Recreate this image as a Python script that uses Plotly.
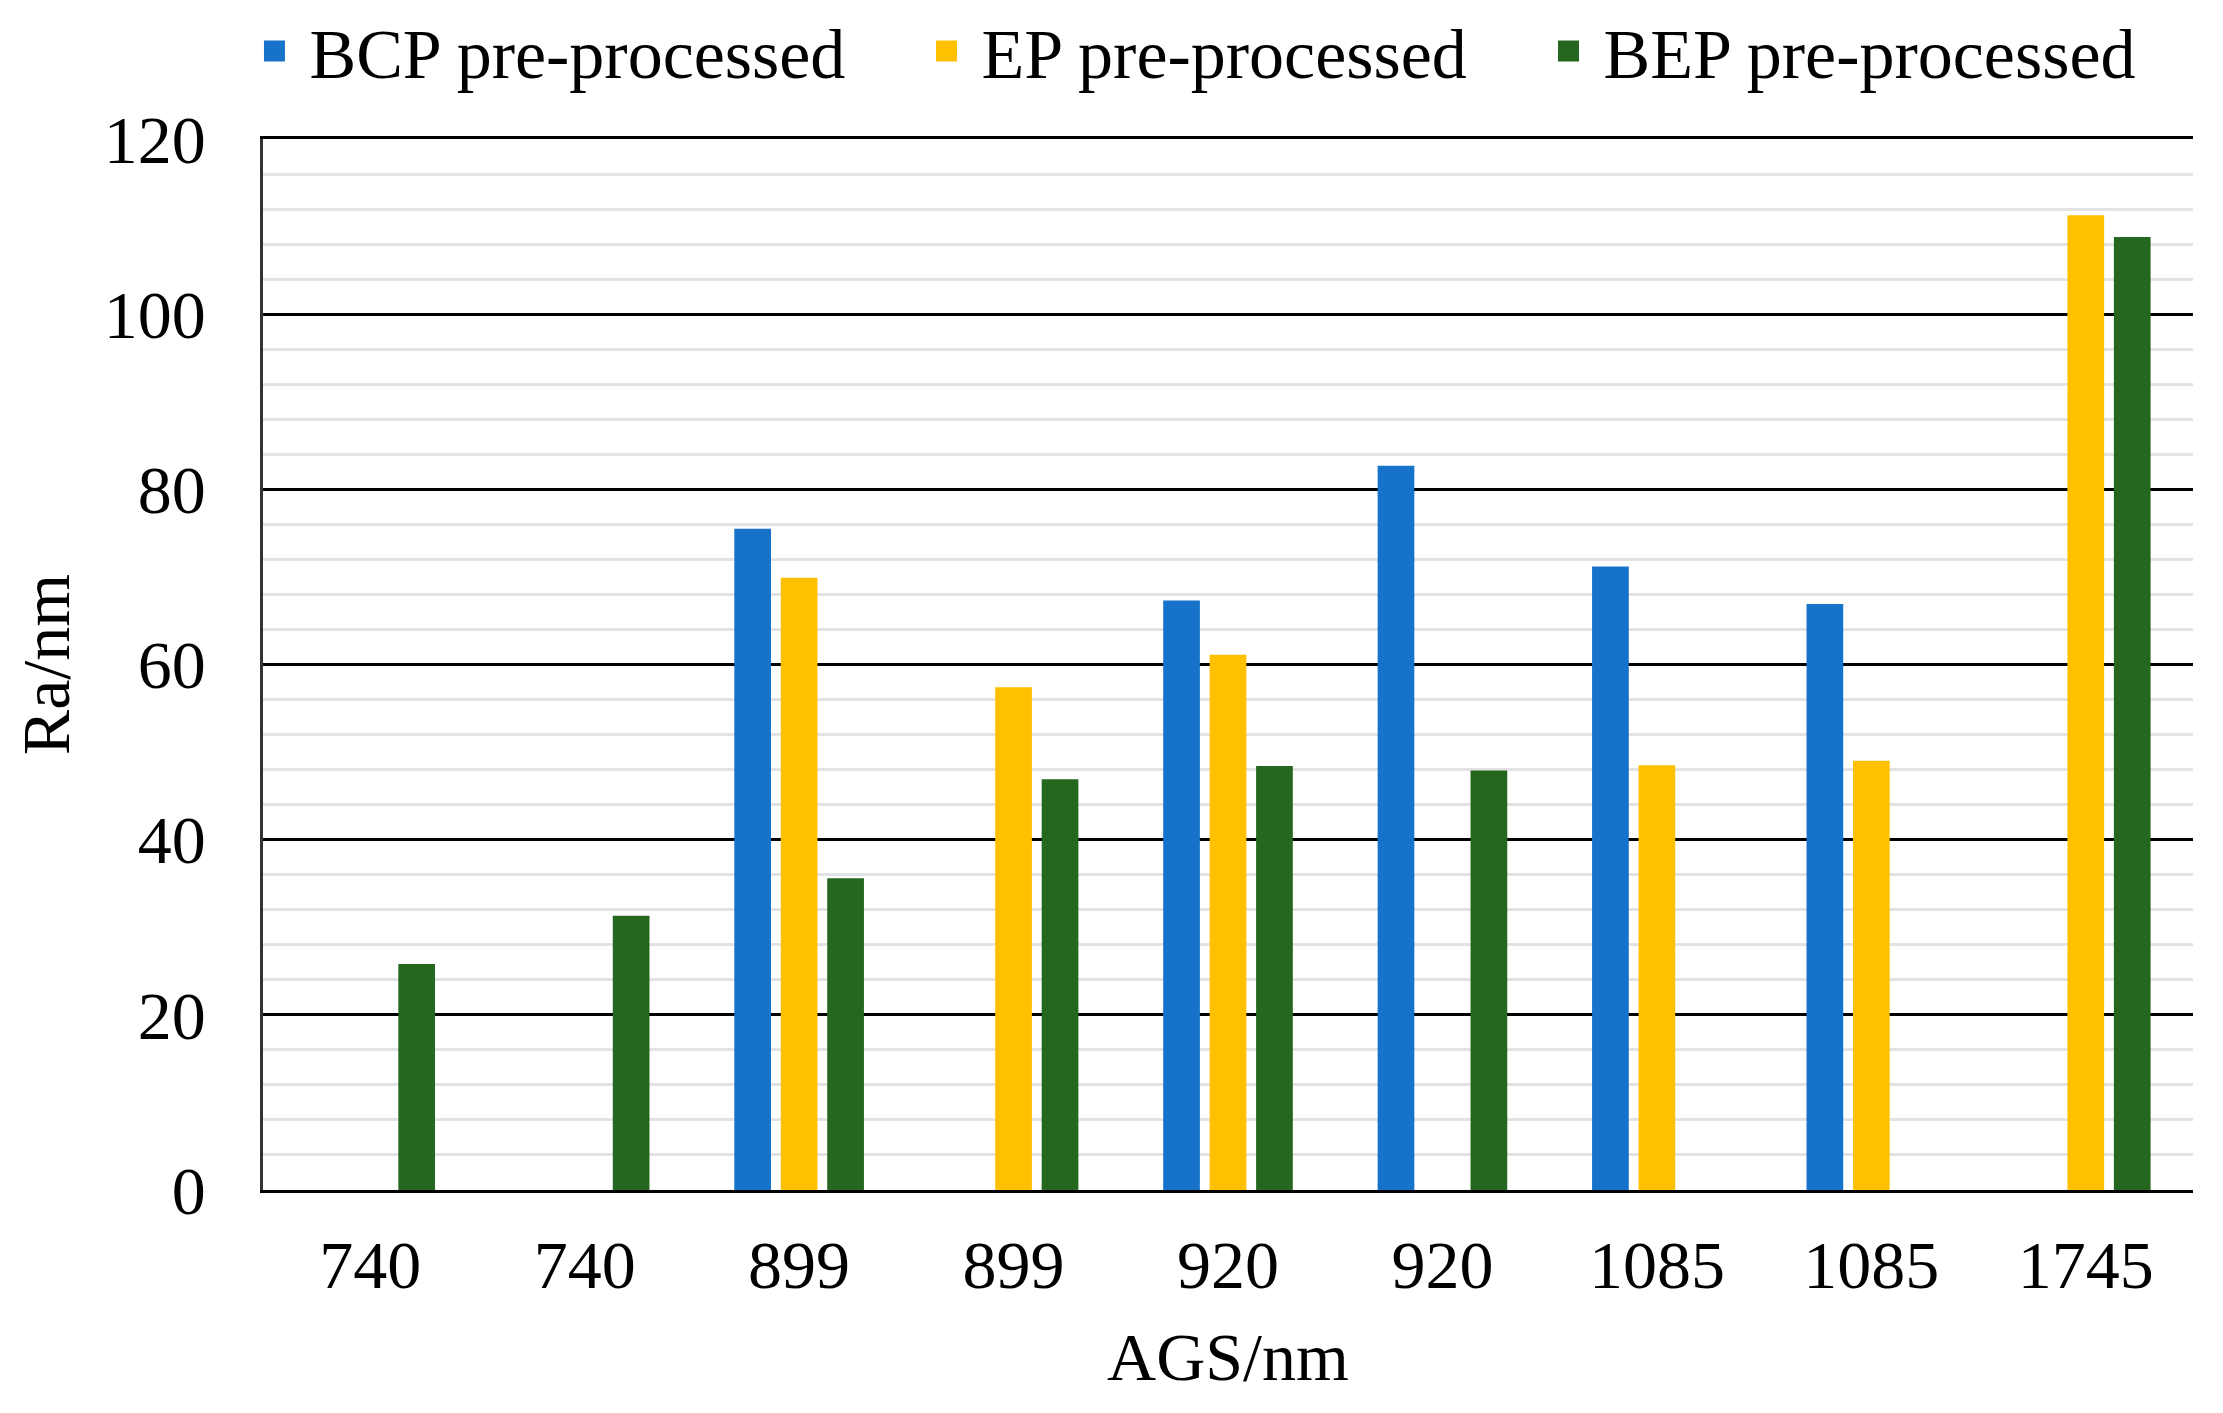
import plotly.graph_objects as go

# ---- data ----
ags_labels = ["740", "740", "899", "899", "920", "920", "1085", "1085", "1745"]
bcp_values = [None, None, 75.5, None, 67.3, 82.7, 71.2, 66.9, None]
ep_values = [None, None, 69.9, 57.4, 61.1, None, 48.5, 49.0, 111.3]
bep_values = [25.8, 31.3, 35.6, 46.9, 48.4, 47.9, None, None, 108.8]
series_names = ["BCP pre-processed", "EP pre-processed", "BEP pre-processed"]
y_ticks = [0, 20, 40, 60, 80, 100, 120]

colors = ["#1772C9", "#FFC000", "#26671F"]
legend_ids = ["legend", "legend2", "legend3"]
legend_x = [-0.0122, 0.336, 0.6583]
positions = list(range(len(ags_labels)))
FONT = "Liberation Serif, Times New Roman, serif"

fig = go.Figure()
for name, vals, col in zip(series_names, [bcp_values, ep_values, bep_values], colors):
    fig.add_trace(go.Bar(x=positions, y=vals, name=name, marker=dict(color=col, line=dict(width=0)),
                         showlegend=False))
# legend entries (one small legend per series so each can sit where the reference has it)
for name, col, lid in zip(series_names, colors, legend_ids):
    fig.add_trace(go.Scatter(x=[None], y=[None], mode="markers", name=name, legend=lid,
                             marker=dict(symbol="square", size=16, color=col,
                                         line=dict(color=col, width=5))))

# the page body has an 8px margin: the figure is 8px smaller so the plot lands where the reference has it
W, H = 2215, 1405
layout_legends = {}
for lid, lx in zip(legend_ids, legend_x):
    layout_legends[lid] = dict(orientation="h", x=lx, xanchor="left", y=1.0837, yanchor="middle",
                               font=dict(family=FONT, size=70, color="black"),
                               itemwidth=60, bgcolor="rgba(0,0,0,0)")

fig.update_layout(
    template="none",
    width=W, height=H,
    margin=dict(l=255, r=30, t=131, b=223, autoexpand=False),
    paper_bgcolor="white", plot_bgcolor="white",
    barmode="group", bargap=0.35, bargroupgap=0.21,
    font=dict(family=FONT, size=68, color="black"),
    **layout_legends,
)
fig.update_xaxes(
    range=[-0.5, len(ags_labels) - 0.5], automargin=False,
    tickmode="array", tickvals=positions, ticktext=ags_labels,
    showgrid=False, zeroline=False, ticks="",
    showline=True, mirror=True, linecolor="black", linewidth=3,
    tickfont=dict(family=FONT, size=68, color="black"),
    ticklabelstandoff=13,
    title=dict(text="AGS/nm", font=dict(family=FONT, size=68, color="black"), standoff=31),
)
fig.update_yaxes(
    range=[0, 120], tickmode="array", tickvals=y_ticks, automargin=False,
    showgrid=True, gridcolor="black", gridwidth=3,
    zeroline=False, ticks="",
    showline=True, linecolor="#333333", linewidth=2.5,
    minor=dict(dtick=4, tick0=0, showgrid=True, gridcolor="#e3e3e3", gridwidth=2.5, ticks=""),
    tickfont=dict(family=FONT, size=68, color="black"),
    ticklabelstandoff=41,
    title=dict(text="Ra/nm", font=dict(family=FONT, size=68, color="black"), standoff=14),
)

fig.write_html("out.html")
